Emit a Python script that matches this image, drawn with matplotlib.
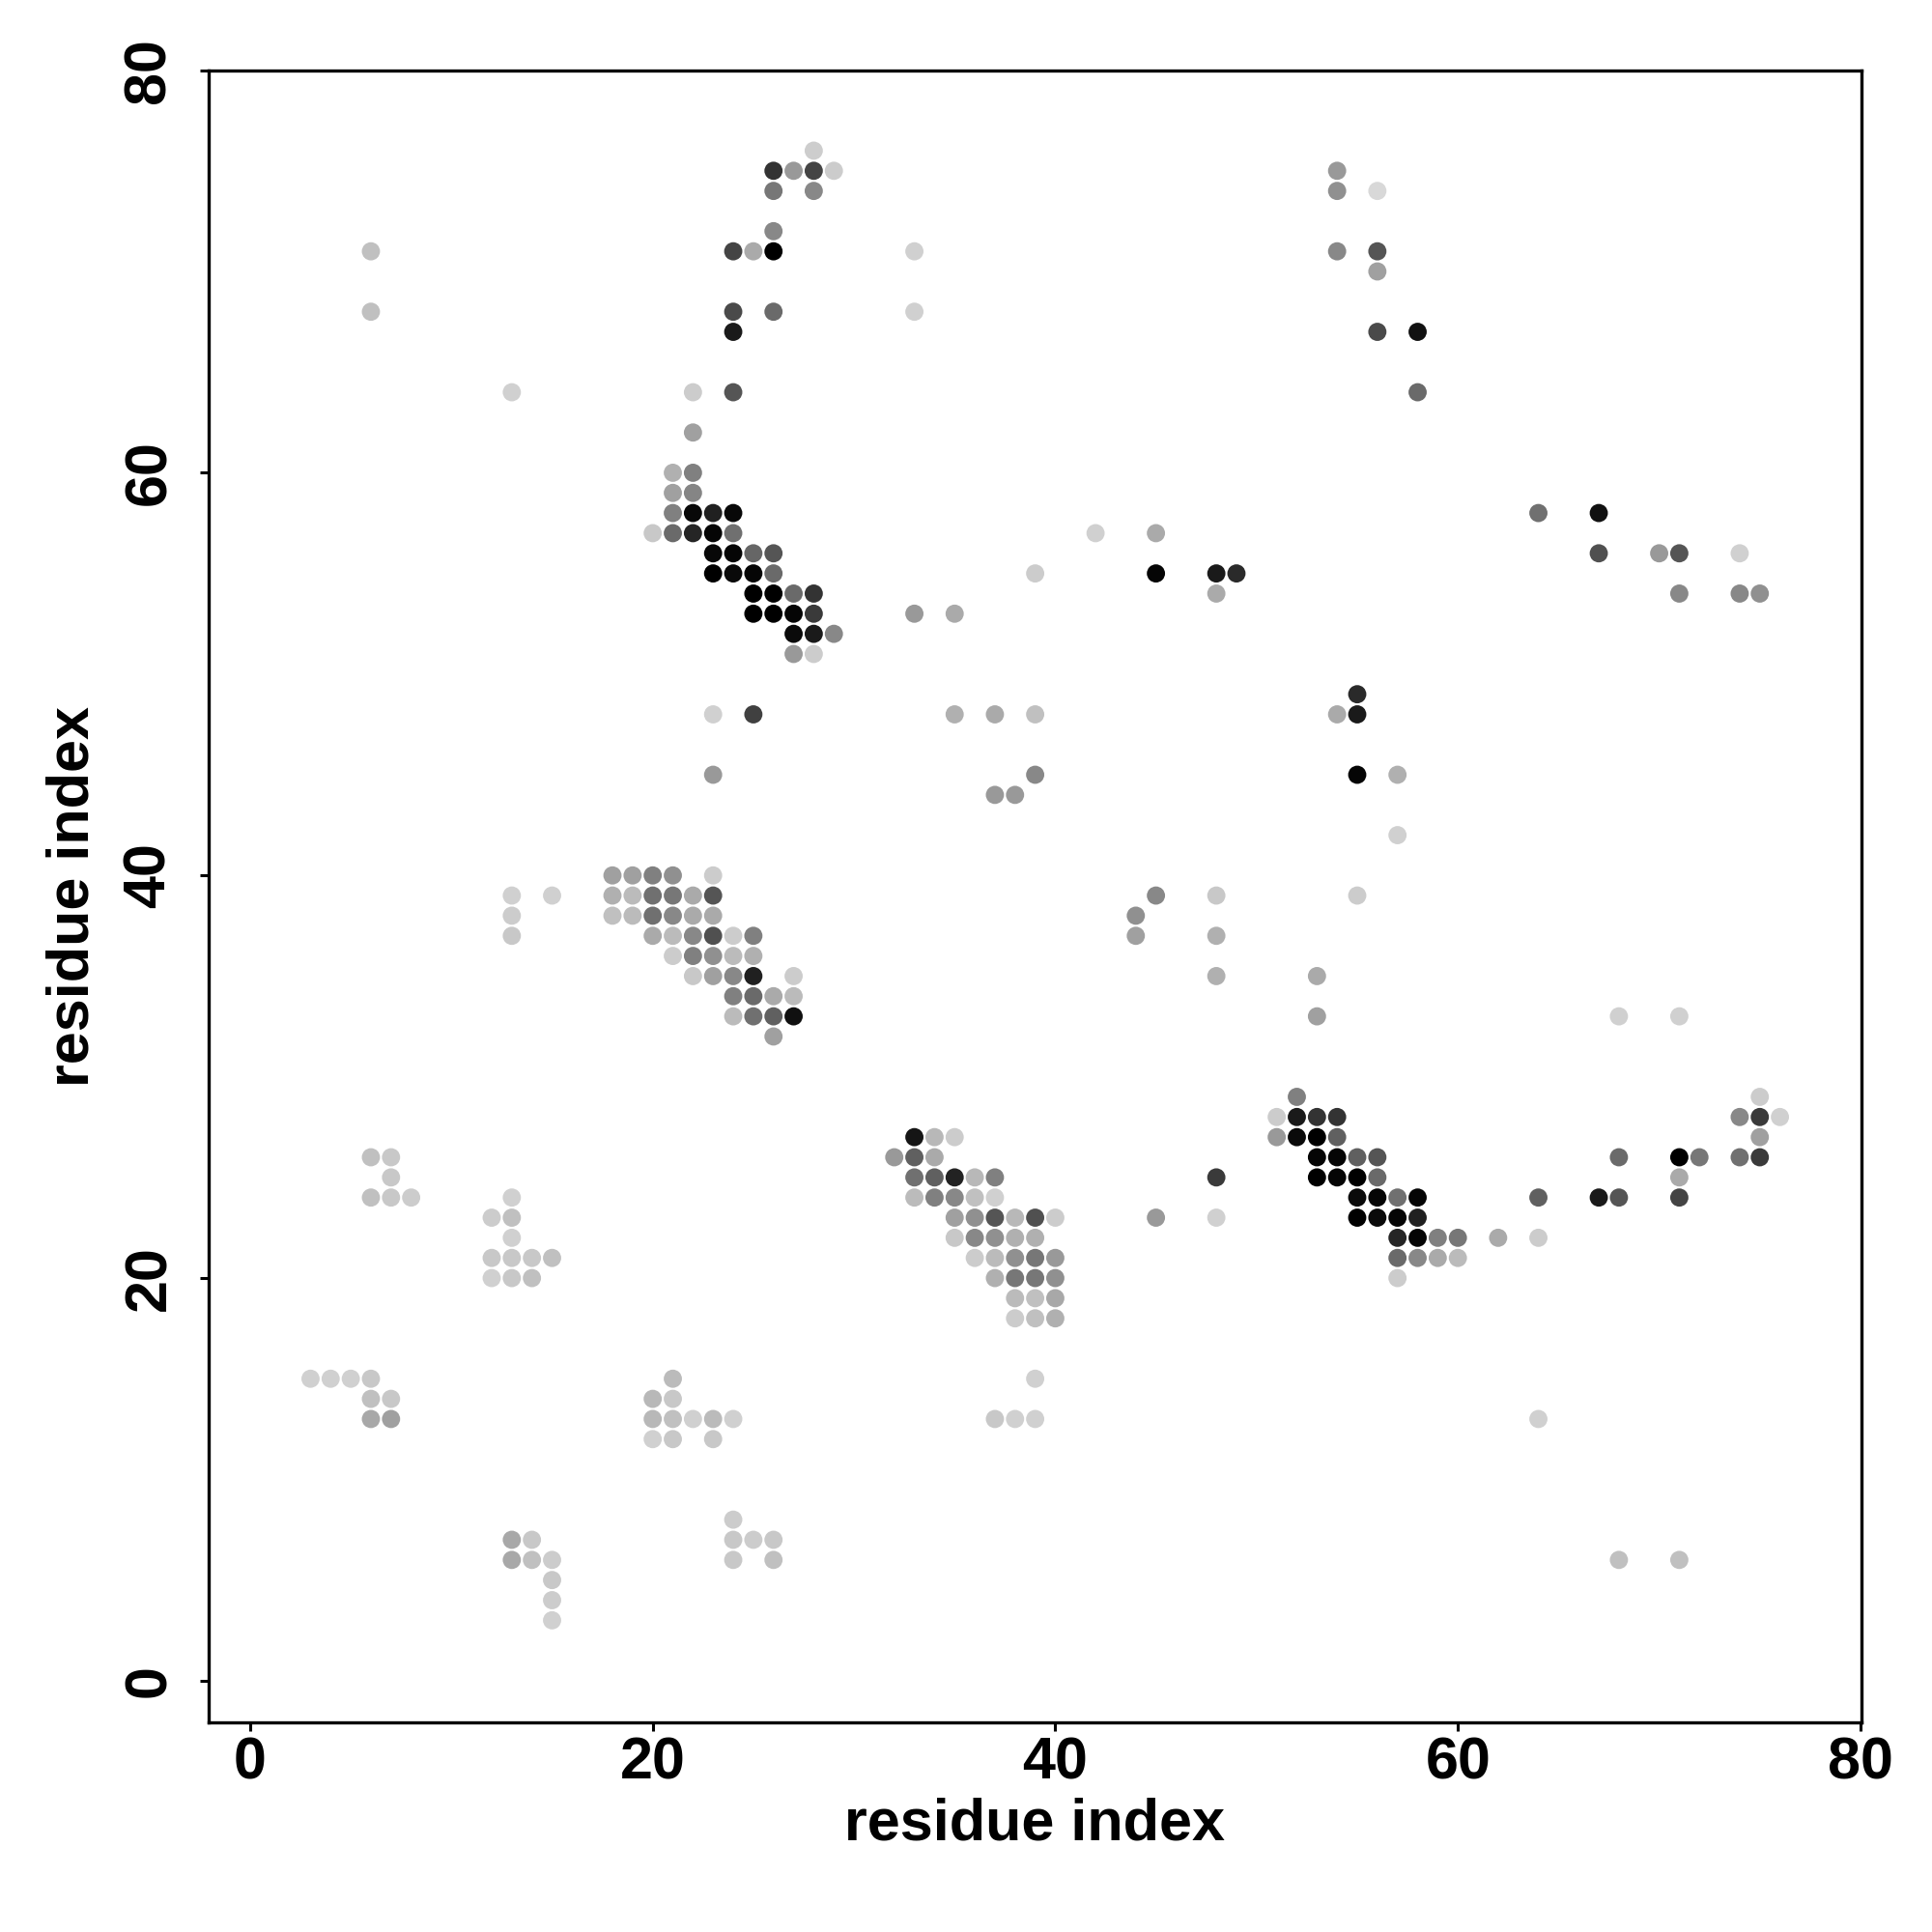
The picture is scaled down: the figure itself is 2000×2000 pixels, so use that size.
import matplotlib
matplotlib.use("Agg")
import matplotlib.pyplot as plt

plt.rcParams['font.family'] = ['Liberation Sans', 'DejaVu Sans']
plt.rcParams['font.weight'] = 'bold'

# contact rows: y residue index, x residue indices, grey level (0 = black, 255 = white)
row_y = [76, 75, 74, 72, 71, 70, 68, 67, 64, 62, 60, 59, 58, 57, 56, 55, 54, 53, 52, 51,
         49, 48, 45, 44, 42, 40, 39, 38, 37, 36, 35, 34, 33, 32,
         29, 28, 27, 26, 25, 24, 23, 22, 21, 20, 19, 18, 15, 14, 13, 12, 8, 7, 6, 5, 4, 3]

row_x = [
    [28],
    [26, 27, 28, 29, 54],
    [26, 28, 54, 56],
    [26],
    [6, 24, 25, 26, 33, 54, 56],
    [56],
    [6, 24, 26, 33],
    [24, 56, 58],
    [13, 22, 24, 58],
    [22],
    [21, 22],
    [21, 22],
    [21, 22, 23, 24, 64, 67],
    [20, 21, 22, 23, 24, 42, 45],
    [23, 24, 25, 26, 67, 70, 71, 74],
    [23, 24, 25, 26, 39, 45, 48, 49],
    [25, 26, 27, 28, 48, 71, 74, 75],
    [25, 26, 27, 28, 33, 35],
    [27, 28, 29],
    [27, 28],
    [55],
    [23, 25, 35, 37, 39, 54, 55],
    [23, 39, 55, 57],
    [37, 38],
    [57],
    [18, 19, 20, 21, 23],
    [13, 15, 18, 19, 20, 21, 22, 23, 45, 48, 55],
    [13, 18, 19, 20, 21, 22, 23, 44],
    [13, 20, 21, 22, 23, 24, 25, 44, 48],
    [21, 22, 23, 24, 25],
    [22, 23, 24, 25, 27, 48, 53],
    [24, 25, 26, 27],
    [24, 25, 26, 27, 53, 68, 71],
    [26],
    [52, 75],
    [51, 52, 53, 54, 74, 75, 76],
    [33, 34, 35, 51, 52, 53, 54, 75],
    [6, 7, 32, 33, 34, 53, 54, 55, 56, 68, 71, 72, 74, 75],
    [7, 33, 34, 35, 36, 37, 48, 53, 54, 55, 56, 71],
    [6, 7, 8, 13, 33, 34, 35, 36, 37, 55, 56, 57, 58, 64, 67, 68, 71],
    [12, 13, 35, 36, 37, 38, 39, 40, 45, 48, 55, 56, 57, 58],
    [13, 35, 36, 37, 38, 39, 57, 58, 59, 60, 62, 64],
    [12, 13, 14, 15, 36, 37, 38, 39, 40, 57, 58, 59, 60],
    [12, 13, 14, 37, 38, 39, 40, 57],
    [38, 39, 40],
    [38, 39, 40],
    [3, 4, 5, 6, 21, 39],
    [6, 7, 20, 21],
    [6, 7, 20, 21, 22, 23, 24, 37, 38, 39, 64],
    [20, 21, 23],
    [24],
    [13, 14, 24, 25, 26],
    [13, 14, 15, 24, 26, 68, 71],
    [15],
    [15],
    [15],
]

row_gray = [
    [205],
    [51, 153, 68, 204, 153],
    [119, 136, 144, 216],
    [136],
    [192, 68, 170, 0, 208, 136, 85],
    [160],
    [192, 74, 106, 208],
    [26, 74, 17],
    [208, 204, 85, 106],
    [160],
    [176, 128],
    [160, 133],
    [128, 8, 32, 8, 112, 17],
    [200, 106, 37, 5, 112, 208, 170],
    [8, 5, 102, 85, 80, 153, 85, 208],
    [0, 10, 5, 106, 204, 5, 26, 42],
    [0, 0, 106, 51, 170, 136, 136, 144],
    [0, 0, 5, 58, 153, 170],
    [10, 26, 136],
    [153, 204],
    [42],
    [208, 64, 176, 170, 192, 170, 26],
    [153, 136, 5, 176],
    [153, 153],
    [208],
    [160, 160, 128, 144, 204],
    [208, 208, 176, 187, 112, 119, 170, 85, 136, 200, 204],
    [204, 192, 187, 112, 136, 170, 170, 144],
    [200, 170, 187, 136, 80, 204, 128, 160, 176],
    [204, 128, 144, 187, 176],
    [200, 160, 136, 32, 204, 176, 170],
    [128, 106, 170, 187],
    [187, 112, 96, 16, 160, 208, 208],
    [160],
    [128, 204],
    [204, 26, 51, 51, 136, 58, 208],
    [21, 184, 204, 153, 10, 0, 96, 160],
    [192, 200, 153, 96, 170, 5, 5, 96, 85, 106, 0, 119, 112, 58],
    [200, 112, 96, 34, 184, 128, 58, 0, 5, 0, 106, 170],
    [192, 200, 204, 208, 187, 128, 136, 192, 208, 10, 5, 112, 5, 96, 26, 85, 68],
    [204, 192, 160, 144, 85, 184, 80, 204, 153, 208, 0, 10, 5, 32],
    [208, 200, 136, 144, 176, 176, 37, 5, 128, 119, 170, 204],
    [200, 200, 200, 192, 204, 187, 144, 119, 153, 106, 136, 170, 187],
    [208, 200, 192, 176, 119, 119, 144, 204],
    [187, 192, 168],
    [204, 192, 176],
    [208, 208, 208, 200, 187, 208],
    [192, 200, 184, 200],
    [168, 160, 184, 192, 208, 187, 208, 200, 208, 208, 208],
    [208, 200, 200],
    [204],
    [168, 200, 200, 204, 200],
    [168, 192, 204, 200, 192, 192, 192],
    [200],
    [204],
    [208],
]

tick_values = [0, 20, 40, 60, 80]
axis_label = "residue index"

xs, ys, gs = [], [], []
for y, xrow, grow in zip(row_y, row_x, row_gray):
    for x, g in zip(xrow, grow):
        xs.append(x)
        ys.append(y)
        gs.append(g)

fig = plt.figure(figsize=(10, 10), dpi=200)
ax = fig.add_axes([0.1078, 0.1085, 0.8559, 0.8552])
ax.scatter(xs, ys, c=gs, cmap='gray', vmin=0, vmax=255, s=46, linewidths=0, zorder=3)

ax.set_xlim(-2.08, 80.07)
ax.set_ylim(-2.07, 80.0)
ax.set_xticks(tick_values)
ax.set_yticks(tick_values)
ax.set_xticklabels([str(v) for v in tick_values], fontsize=22, fontweight='bold')
ax.set_yticklabels([str(v) for v in tick_values], fontsize=22, fontweight='bold',
                   rotation=90, va='center')
ax.tick_params(axis='both', direction='out', length=3.4, width=1.1, color='black')
ax.tick_params(axis='x', pad=2)
ax.tick_params(axis='y', pad=8)
for sp in ax.spines.values():
    sp.set_linewidth(1.2)
    sp.set_color('black')

ax.set_xlabel(axis_label, fontsize=22, fontweight='bold')
ax.set_ylabel(axis_label, fontsize=22, fontweight='bold')
ax.xaxis.set_label_coords(0.5, -0.062)
ax.xaxis.label.set_va('center')
ax.yaxis.set_label_coords(-0.0816, 0.5)
ax.yaxis.label.set_va('center')

fig.savefig("out.png", dpi=200, facecolor='white')
